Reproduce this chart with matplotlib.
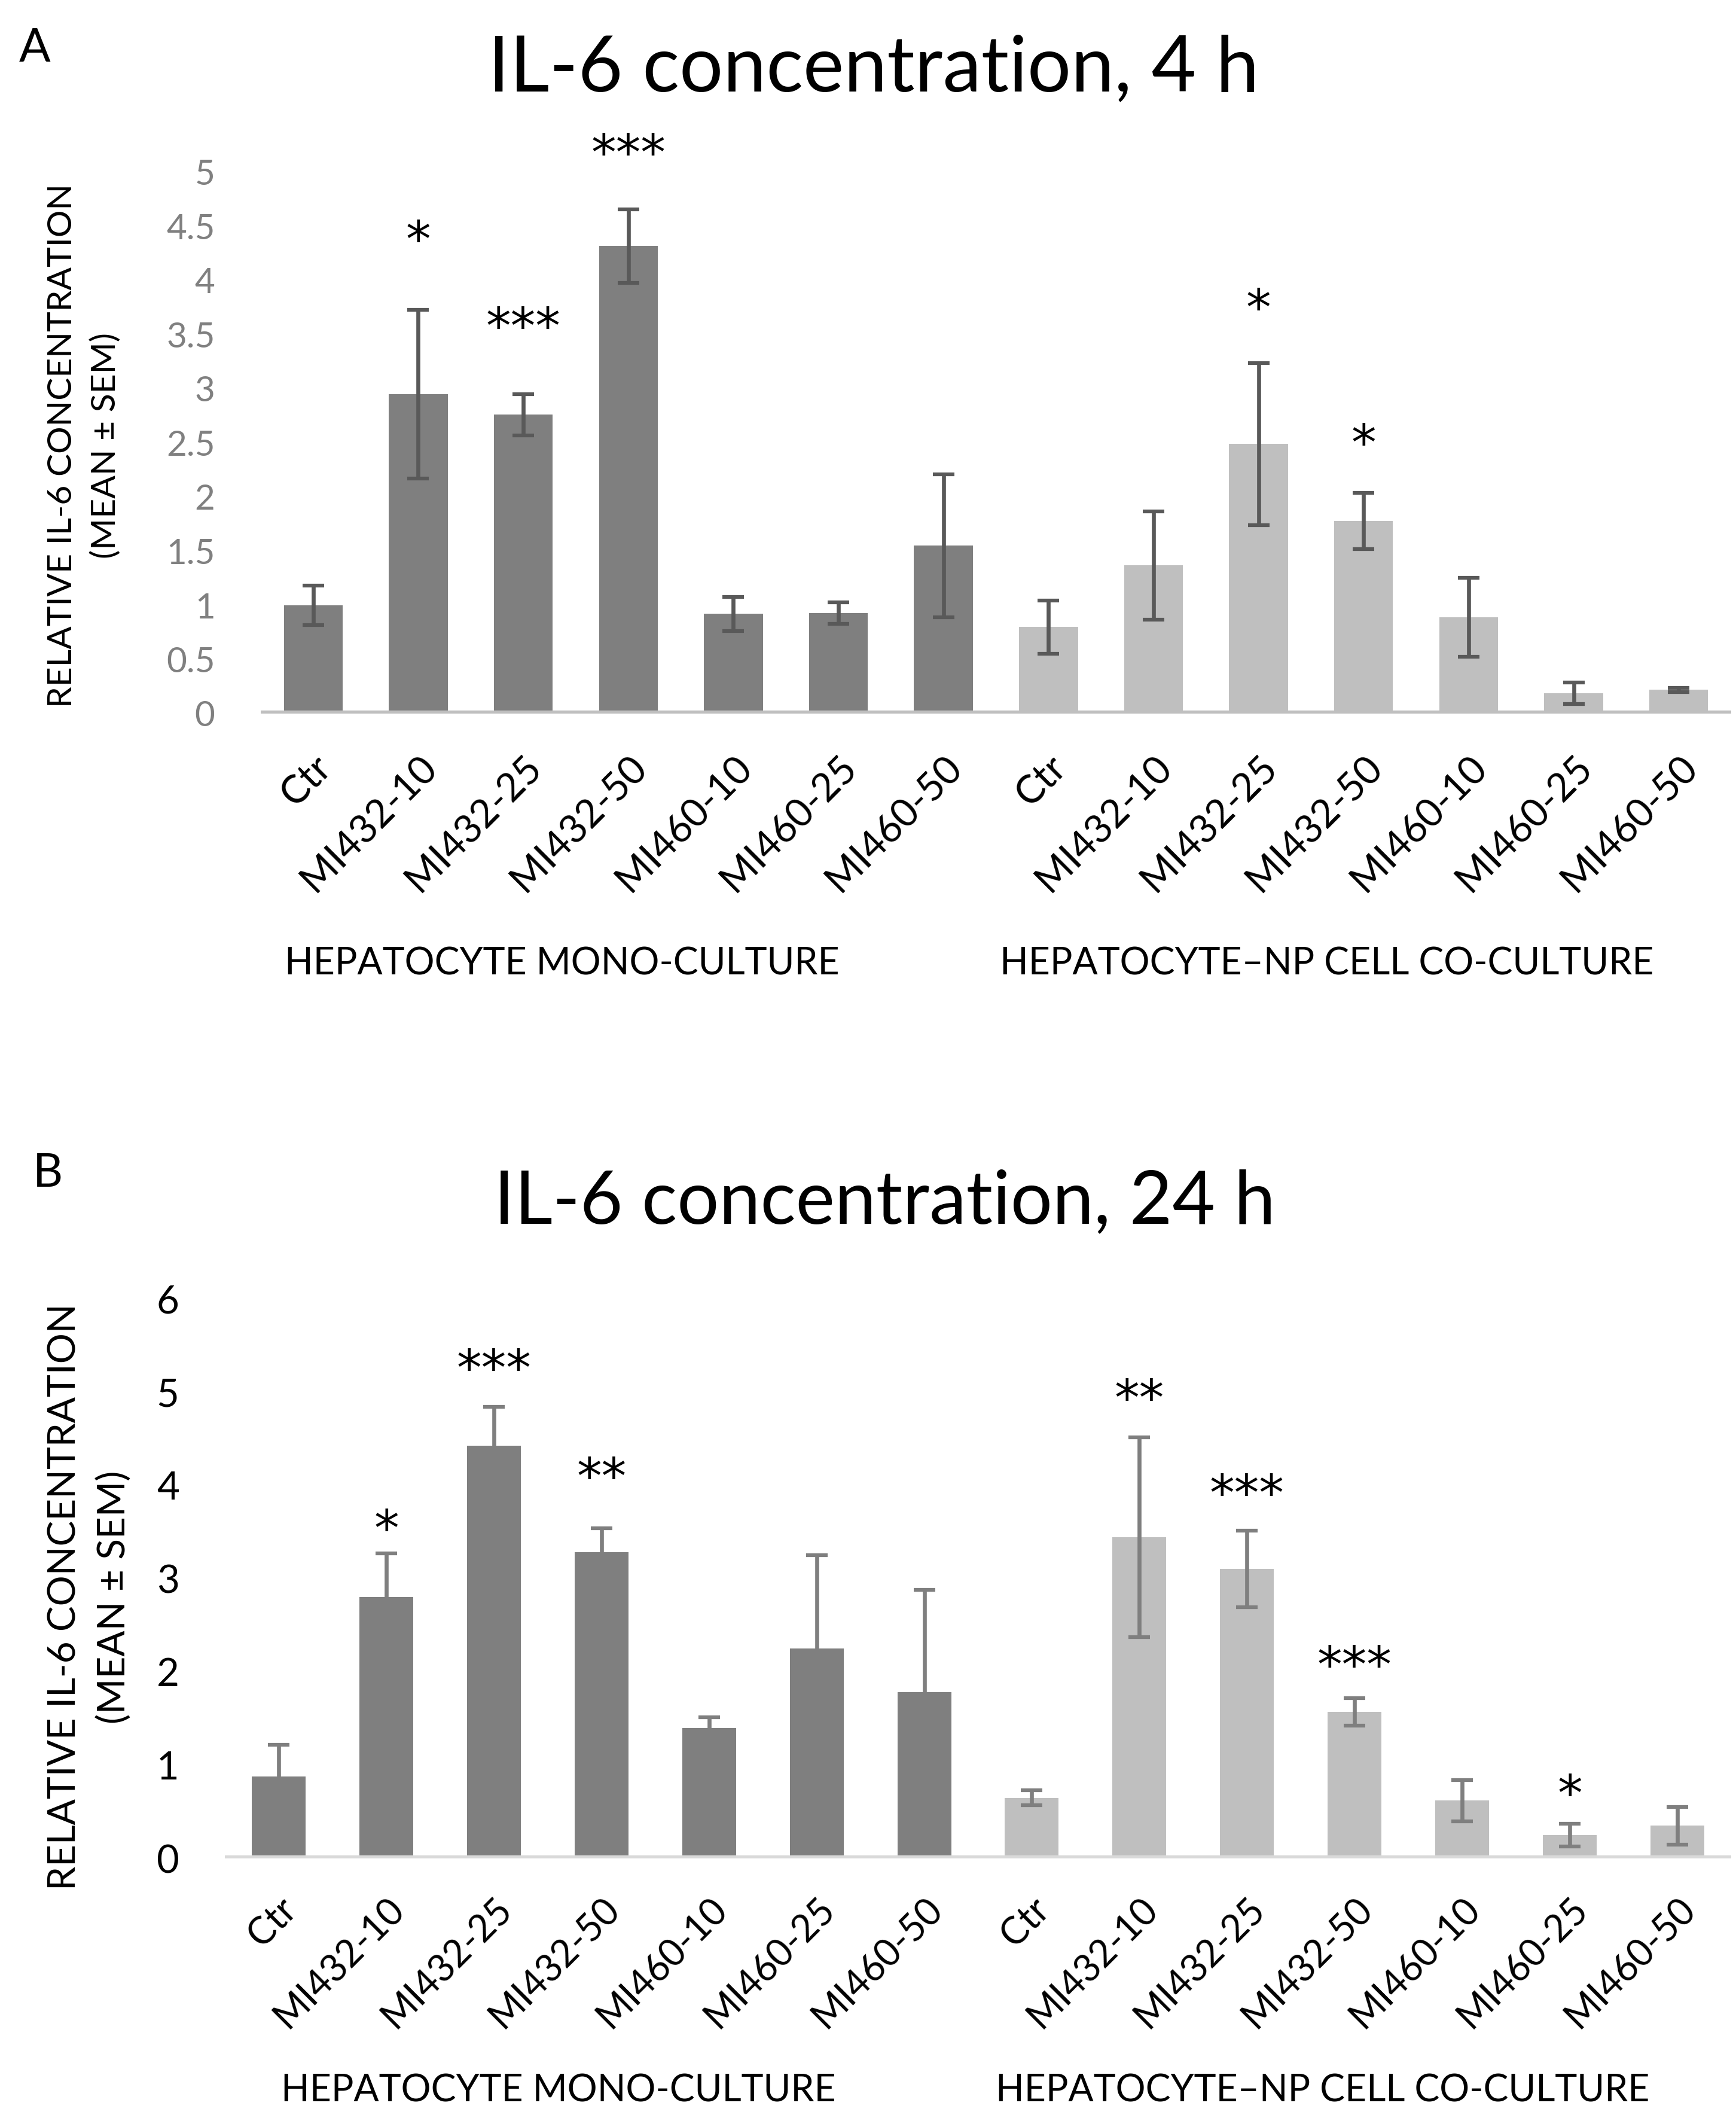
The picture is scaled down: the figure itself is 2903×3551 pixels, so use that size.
import matplotlib
matplotlib.use("Agg")
import matplotlib.pyplot as plt
import matplotlib.transforms as mtransforms

plt.rcParams["font.family"] = ["Lato", "DejaVu Sans"]

W, H = 2903, 3551

labels = ["Ctr", "MI432-10", "MI432-25", "MI432-50", "MI460-10", "MI460-25", "MI460-50"]
groups = ["HEPATOCYTE MONO-CULTURE", "HEPATOCYTE\u2013NP CELL CO-CULTURE"]

# panel A, 4 h
a_mono = [1.00, 2.95, 2.76, 4.32, 0.92, 0.93, 1.55]
a_mono_err = [0.18, 0.78, 0.19, 0.34, 0.155, 0.10, 0.66]
a_co = [0.80, 1.37, 2.49, 1.78, 0.89, 0.19, 0.22]
a_co_err = [0.245, 0.50, 0.75, 0.26, 0.365, 0.10, 0.02]
a_stars = ["", "*", "***", "***", "", "", "", "", "", "*", "*", "", "", ""]
a_star_y = [0, 4.47, 3.67, 5.27, 0, 0, 0, 0, 0, 3.84, 2.59, 0, 0, 0]

# panel B, 24 h
b_mono = [0.88, 2.80, 4.42, 3.28, 1.40, 2.25, 1.78]
b_mono_err = [0.34, 0.47, 0.42, 0.26, 0.11, 1.00, 1.10]
b_co = [0.65, 3.44, 3.10, 1.57, 0.62, 0.25, 0.35]
b_co_err = [0.08, 1.07, 0.41, 0.15, 0.22, 0.12, 0.20]
b_stars = ["", "*", "***", "**", "", "", "", "", "**", "***", "***", "", "*", ""]
b_star_y = [0, 3.64, 5.36, 4.20, 0, 0, 0, 0, 5.04, 4.02, 2.18, 0, 0.80, 0]

DARK = "#7f7f7f"
LIGHT = "#bfbfbf"
STAR_FS = 60


def panel(ax, mono, mono_err, co, co_err, stars, star_y, ymax, ystep,
          errcol, basecol, tickcol, tickfs, xfs, xpad, barw, group_x, group_y):
    vals = mono + co
    errs = mono_err + co_err
    cols = [DARK] * len(mono) + [LIGHT] * len(co)
    x = list(range(len(vals)))
    ax.bar(x, vals, width=barw, color=cols, zorder=2)
    ax.errorbar(x, vals, yerr=errs, fmt="none", ecolor=errcol, elinewidth=4.8,
                capsize=13, capthick=4.5, zorder=3)
    ax.axhline(0, color=basecol, lw=7.5, zorder=4)
    for xi, s, yy in zip(x, stars, star_y):
        if s:
            # the glyph sits high in its line box, so nudge it down
            ax.annotate(s, (xi, yy), xytext=(0, -0.26 * STAR_FS),
                        textcoords="offset points", ha="center", va="center",
                        fontsize=STAR_FS, family="DejaVu Sans", color="black",
                        annotation_clip=False)
    ax.set_xlim(-0.5, len(vals) - 0.5)
    ax.set_ylim(0, ymax)
    ticks = [i * ystep for i in range(int(round(ymax / ystep)) + 1)]
    ax.set_yticks(ticks)
    ax.set_yticklabels([f"{t:g}" for t in ticks], color=tickcol, fontsize=tickfs)
    ax.set_xticks(x)
    ax.set_xticklabels(labels + labels, rotation=45, ha="right", va="top",
                       rotation_mode="anchor", fontsize=xfs)
    ax.tick_params(axis="both", length=0)
    ax.tick_params(axis="x", pad=xpad)
    ax.tick_params(axis="y", pad=55)
    for sp in ax.spines.values():
        sp.set_visible(False)
    trans = mtransforms.blended_transform_factory(ax.transData, ax.figure.transFigure)
    for gx, g in zip(group_x, groups):
        ax.text(gx, group_y, g, transform=trans, ha="center", va="center",
                fontsize=45, clip_on=False)


fig = plt.figure(figsize=(W / 100, H / 100), dpi=100)

axA = fig.add_axes([436 / W, 1 - 1193 / H, (2895 - 436) / W, (1193 - 288) / H])
panel(axA, a_mono, a_mono_err, a_co, a_co_err, a_stars, a_star_y, 5, 0.5,
      "#595959", LIGHT, "#808080", 42, 47, 43, 0.56, [2.37, 9.65], 1 - 1612 / H)

axB = fig.add_axes([376 / W, 1 - 3107 / H, (2895 - 376) / W, (3107 - 2171) / H])
panel(axB, b_mono, b_mono_err, b_co, b_co_err, b_stars, b_star_y, 6, 1,
      "#7f7f7f", "#d9d9d9", "black", 47, 45, 40, 0.5, [2.6, 9.7], 1 - 3496 / H)

fig.text(1461 / W, 1 - 152 / H, "IL-6 concentration, 4 h", ha="center",
         va="baseline", fontsize=93, color="black")
fig.text(1479 / W, 1 - 2045 / H, "IL-6 concentration, 24 h", ha="center",
         va="baseline", fontsize=89, color="black")
fig.text(32 / W, 1 - 103 / H, "A", ha="left", va="baseline", fontsize=56)
fig.text(55 / W, 1 - 1984 / H, "B", ha="left", va="baseline", fontsize=56)

ylab = "RELATIVE IL-6 CONCENTRATION\n(MEAN \u00b1 SEM)"
fig.text(141 / W, 1 - 745 / H, ylab, rotation=90, ha="center", va="center",
         multialignment="center", fontsize=41, linespacing=1.5)
fig.text(150 / W, 1 - 2670 / H, ylab, rotation=90, ha="center", va="center",
         multialignment="center", fontsize=46, linespacing=1.5)

fig.savefig("out.png", dpi=100)
